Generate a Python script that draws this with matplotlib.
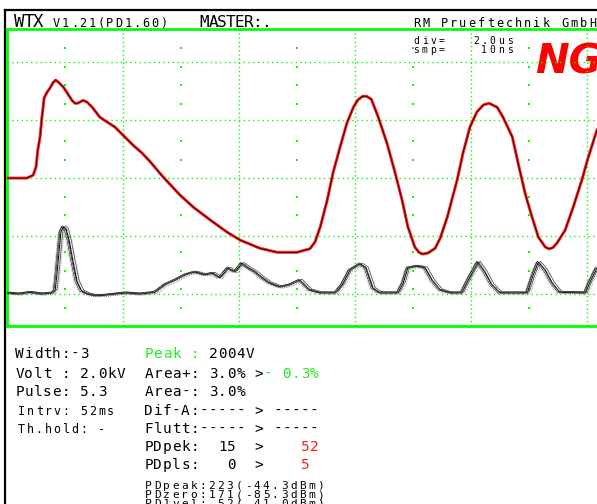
import numpy as np
import matplotlib
matplotlib.use('Agg')
import matplotlib.pyplot as plt
import matplotlib.transforms as mtransforms

# scope data: x in us (2.0us/div), y in divisions (0 = centre line)
main_x = [0.00, 0.34, 0.45, 0.50, 0.53, 0.57, 0.60, 0.64, 0.69, 0.74, 0.79, 0.84, 0.90, 0.97,
          1.03, 1.12, 1.17, 1.22, 1.31, 1.38, 1.47, 1.60, 1.72, 1.86, 2.00, 2.17, 2.33, 2.47,
          2.69, 2.98, 3.21, 3.50, 3.79, 4.02, 4.36, 4.66, 5.00, 5.14, 5.22, 5.31, 5.40, 5.52,
          5.62, 5.74, 5.86, 5.97, 6.05, 6.13, 6.20, 6.28, 6.40, 6.55, 6.69, 6.81, 6.91, 7.03, 7.10, 7.16,
          7.26, 7.38, 7.47, 7.59, 7.76, 7.86, 7.98, 8.10, 8.21, 8.31, 8.45, 8.55, 8.71, 8.81,
          8.93, 9.05, 9.16, 9.28, 9.34, 9.41, 9.48, 9.62, 9.76, 9.91, 10.02, 10.17]
main_y = [0.00, 0.00, 0.05, 0.19, 0.48, 0.71, 1.03, 1.38, 1.48, 1.55, 1.64, 1.69, 1.64, 1.57,
          1.48, 1.34, 1.29, 1.29, 1.34, 1.31, 1.22, 1.05, 0.97, 0.88, 0.74, 0.57, 0.43, 0.28,
          0.02, -0.29, -0.50, -0.72, -0.93, -1.07, -1.21, -1.28, -1.28, -1.24, -1.22, -1.10, -0.84, -0.38,
          0.09, 0.53, 0.95, 1.22, 1.35, 1.41, 1.41, 1.36, 1.05, 0.60, 0.09, -0.38, -0.84, -1.19, -1.28, -1.31,
          -1.29, -1.21, -1.03, -0.67, -0.03, 0.43, 0.88, 1.14, 1.26, 1.29, 1.22, 1.05, 0.71, 0.26,
          -0.26, -0.67, -1.02, -1.19, -1.22, -1.20, -1.12, -0.90, -0.50, -0.03, 0.36, 0.83]

pd_x = [0.00, 0.20, 0.40, 0.60, 0.79, 0.83, 0.86, 0.90, 0.93, 0.97, 1.02, 1.07, 1.14, 1.21,
        1.29, 1.40, 1.52, 1.69, 1.86, 2.05, 2.29, 2.55, 2.72, 2.90, 3.07, 3.24, 3.41, 3.55,
        3.67, 3.81, 3.93, 4.05, 4.16, 4.28, 4.40, 4.53, 4.71, 4.88, 5.05, 5.22, 5.40, 5.66,
        5.78, 5.91, 6.09, 6.19, 6.31, 6.43, 6.74, 6.83, 6.91, 7.07, 7.21, 7.33, 7.47, 7.64,
        7.84, 7.95, 8.12, 8.24, 8.36, 8.50, 8.97, 9.07, 9.16, 9.28, 9.40, 9.53, 9.97, 10.05, 10.17]
pd_y = [-1.98, -2.00, -1.97, -2.00, -1.98, -1.93, -1.67, -1.24, -0.93, -0.84, -0.88, -1.07, -1.45, -1.79,
        -1.95, -2.00, -2.03, -2.02, -2.00, -1.98, -2.00, -1.97, -1.84, -1.76, -1.67, -1.62, -1.67, -1.64,
        -1.72, -1.55, -1.62, -1.47, -1.55, -1.62, -1.72, -1.81, -1.88, -1.84, -1.76, -1.93, -1.98, -1.98,
        -1.84, -1.59, -1.48, -1.55, -1.90, -1.98, -1.98, -1.81, -1.55, -1.52, -1.55, -1.76, -1.93, -1.98,
        -1.98, -1.76, -1.45, -1.62, -1.84, -1.98, -1.98, -1.67, -1.45, -1.59, -1.81, -1.97, -1.98, -1.79, -1.55]

grid_x = [2, 4, 6, 8, 10]
grid_y = [-2, -1, 0, 1, 2]
minor_x = [1, 3, 5, 7, 9]
minor_y = [-2.24, -1.92, -1.60, -1.28, -0.64, -0.32, 0.32, 0.64, 1.28, 1.60, 1.92, 2.24]

GREEN = '#00ff00'
TGREEN = '#22ee22'
RED = '#ff1a1a'
MONO = 'DejaVu Sans Mono'

fig = plt.figure(figsize=(5.97, 5.04), dpi=100)
bg = fig.add_axes([0, 0, 1, 1])
bg.set_xlim(0, 597)
bg.set_ylim(504, 0)
bg.axis('off')


def mono(x, y, s, pitch, size, colors=None, color='black'):
    # fixed pitch text, one glyph per cell
    for i, ch in enumerate(s):
        if ch == ' ':
            continue
        c = colors[i] if colors else color
        bg.text(x + (i + 0.5) * pitch, y, ch, fontsize=size, color=c,
                ha='center', va='baseline', family=MONO)


# frame lines of the screen
bg.plot([5, 597], [10, 10], color='black', lw=1.6)
bg.plot([5, 5], [10, 504], color='black', lw=1.6)

# header
mono(14, 27, 'WTX', 9.6, 12.5)
mono(52, 27, 'V1.21(PD1.60)', 8.9, 8.6)
mono(200, 27, 'MASTER:.', 8.8, 11.5)
mono(412, 27, 'RM Prueftechnik GmbH', 9.25, 8.6)
mono(412, 44, 'div=   2.0us', 8.5, 7.0)
mono(412, 53, 'smp=    10ns', 8.5, 7.0)
bg.text(535, 73, 'NG', fontsize=29, color='#ff0000', fontweight='bold', fontstyle='italic',
        family='DejaVu Sans', ha='left', va='baseline')

# scope area
ax = fig.add_axes([7 / 597, (504 - 326) / 504, 590 / 597, 297 / 504])
ax.set_facecolor('none')
ax.set_xlim(0, 10.17)
ax.set_ylim(-2.55, 2.57)
ax.set_xticks([])
ax.set_yticks([])
for side in ['top', 'left', 'bottom']:
    ax.spines[side].set_color(GREEN)
    ax.spines[side].set_linewidth(2)
ax.spines['right'].set_visible(False)

for gx in grid_x:
    ax.axvline(gx, color=GREEN, lw=1.0, ls=(0, (1, 2)), zorder=1)
for gy in grid_y:
    ax.axhline(gy, color=GREEN, lw=1.0, ls=(0, (1, 2.4)), zorder=1)
mx, my = np.meshgrid(minor_x, minor_y)
ax.scatter(mx.ravel(), my.ravel(), marker='s', s=1.6, color=GREEN, linewidths=0, zorder=1)

# PD traces: several overlapping sweeps with a little time jitter
sweeps = [(0, 0, '#000000', 0.7, '-'), (-2, 0, '#333333', 0.5, '-'), (2, 1, '#444444', 0.5, '-'),
          (3, -1, '#666666', 0.5, ':'), (-1, 1, '#222222', 0.5, '-'), (1, -1, '#555555', 0.5, ':'),
          (-3, -1, '#777777', 0.5, ':')]
for dx, dy, col, w, ls in sweeps:
    tr = mtransforms.offset_copy(ax.transData, fig=fig, x=dx, y=dy, units='dots')
    ax.plot(pd_x, pd_y, color=col, lw=w, ls=ls, transform=tr, zorder=3)

# voltage trace
ax.plot(main_x, main_y, color=RED, lw=2.1, zorder=4)
ax.plot(main_x, main_y, color='black', lw=0.5, zorder=5)

# measurement panel
P = 9.2
F = 10.4
mono(15, 358, 'Width:-3', P, F)
mono(15, 378, 'Volt : 2.0kV', P, F)
mono(15, 396, 'Pulse: 5.3', P, F)
mono(17, 415, 'Intrv: 52ms', 8.9, 8.4)
mono(17, 433, 'Th.hold: -', 8.9, 8.4)

mono(144, 358, 'Peak : 2004V', P, F, colors=[TGREEN] * 7 + ['black'] * 5)
s = 'Area+: 3.0% >- 0.3%'
mono(144, 378, s, P, F, colors=['black'] * 13 + [TGREEN] * 6)
mono(144, 396, 'Area-: 3.0%', P, F)
mono(144, 415, 'Dif-A:----- > -----', P, F)
mono(144, 433, 'Flutt:----- > -----', P, F)
s = 'PDpek:  15  >    52'
mono(144, 451, s, P, F, colors=['black'] * 17 + [RED] * 2)
s = 'PDpls:   0  >    5'
mono(144, 469, s, P, F, colors=['black'] * 17 + [RED])
mono(144, 489, 'PDpeak:223(-44.3dBm)', 9.05, 8.0)
mono(144, 498, 'PDzero:171(-85.3dBm)', 9.05, 8.0)
mono(144, 507, 'PDlvel: 52(-41.0dBm)', 9.05, 8.0)

fig.savefig('out.png', dpi=100)
